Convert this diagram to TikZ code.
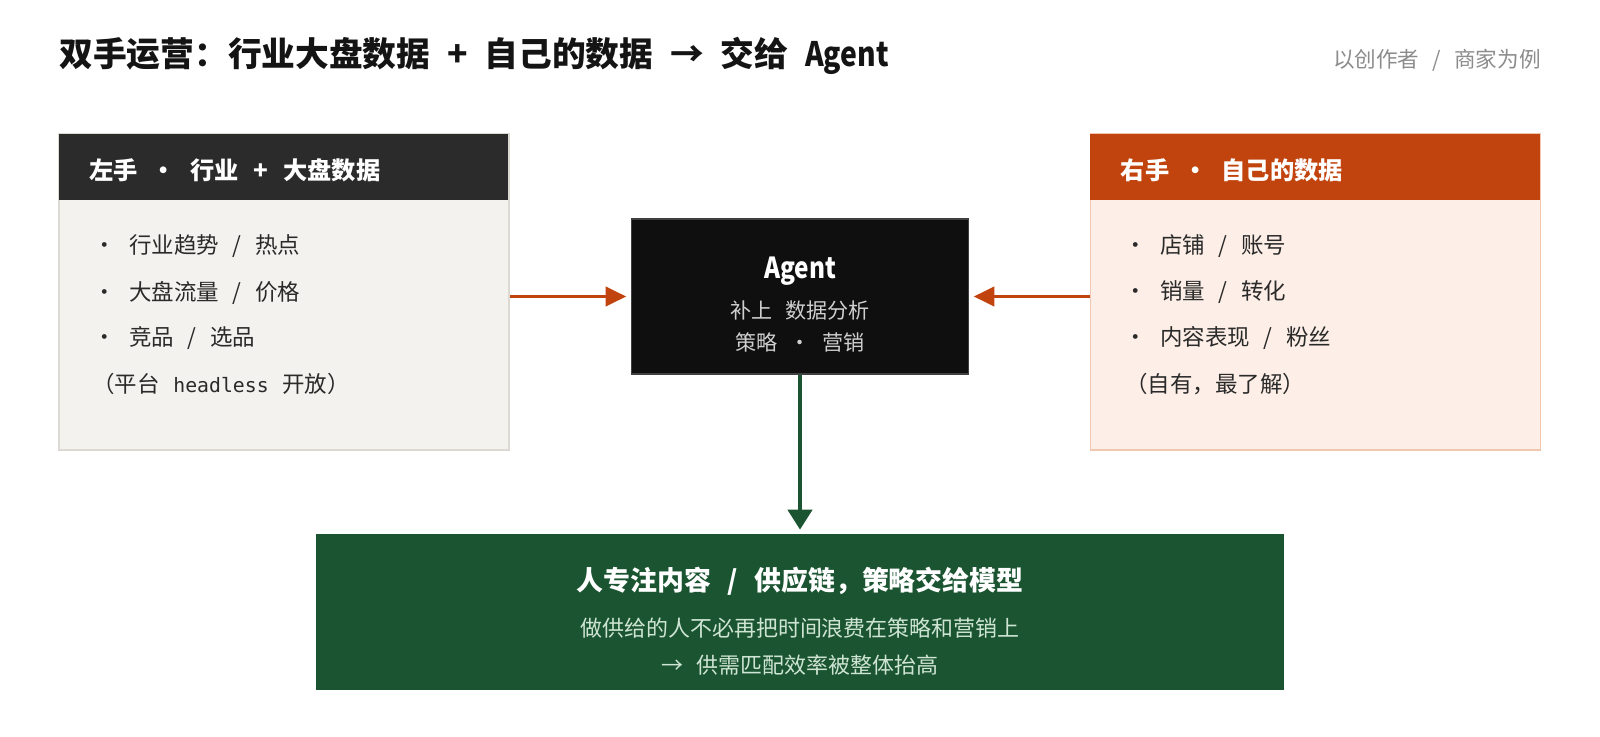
\documentclass[tikz,border=0pt]{standalone}
\usepackage{graphicx}
\usepackage{fontspec}
\setmainfont[WordSpace=2.7]{Noto Sans CJK SC}
\newfontfamily\codefont[Scale=0.88]{DejaVu Sans Mono}
\usetikzlibrary{arrows.meta, positioning}

\definecolor{titleink}{HTML}{141414}
\definecolor{notegray}{HTML}{8C8C8C}
\definecolor{inkdark}{HTML}{2B2B2B}
\definecolor{paper}{HTML}{F4F2EE}
\definecolor{paperline}{HTML}{DCD9D3}
\definecolor{rust}{HTML}{C1440E}
\definecolor{peach}{HTML}{FDEFE7}
\definecolor{peachline}{HTML}{F2C7B0}
\definecolor{agentbg}{HTML}{0F0F0F}
\definecolor{agentsub}{HTML}{CFCFCF}
\definecolor{deepgreen}{HTML}{1A5431}
\definecolor{goalsub}{HTML}{CFE5D4}
\definecolor{itemtxt}{HTML}{2A2A2A}

\newcommand{\dotsep}{\hspace{0.58em}·\hspace{0.58em}}
\newcommand{\bul}{·\hspace{0.6em}}
\newcommand{\narrowtxt}[1]{\scalebox{0.84}[1]{#1}}
\newcommand{\tightspace}{\spaceskip 0.5em\relax}

\begin{document}
\begin{tikzpicture}[
    x=0.02cm, y=-0.02cm,
    panel/.style={rectangle, inner sep=0pt, minimum width=9cm, minimum height=6.32cm, line width=1pt, fill=#1},
    head/.style={rectangle, inner sep=0pt, minimum width=9cm, minimum height=1.34cm, anchor=north west, fill=#1},
    headtxt/.style={font=\fontsize{13.8}{16}\selectfont\bfseries, text=white, anchor=west, inner sep=0pt},
    item/.style={font=\fontsize{12.8}{15}\selectfont, text=itemtxt, anchor=west, inner sep=0pt},
    plain/.style={inner sep=0pt, text=#1},
    arrow/.style={-{Triangle[length=11.8pt, width=11pt]}, line width=1.9pt, color=#1, shorten >=0.1cm}
]
\useasboundingbox (0,0) rectangle (1600,737);

% heading
\node[plain=titleink, anchor=west, font=\fontsize{19.2}{22}\selectfont\bfseries\tightspace] (title) at (59,56) {双手运营：行业大盘数据 + 自己的数据 → 交给 \narrowtxt{Agent}};
\node[plain=notegray, anchor=east, font=\fontsize{12.3}{15}\selectfont] (note) at (1541,60) {以创作者 / 商家为例};

% left hand
\node[panel=paper, draw=paperline] (left) at (284,292) {};
\node[head=inkdark] (lhead) at (left.north west) {};
\node[headtxt] (lhtxt) at (89,170) {左手\dotsep 行业 + 大盘数据};
\node[item] (l1) at (93,246.5) {\bul 行业趋势 / 热点};
\node[item] (l2) at (93,292.5) {\bul 大盘流量 / 价格};
\node[item] (l3) at (93,338) {\bul 竞品 / 选品};
\node[item] (l4) at (92,384) {（平台 {\codefont headless} 开放）};

% right hand
\node[panel=peach, draw=peachline] (right) at (1315.5,292) {};
\node[head=rust] (rhead) at (right.north west) {};
\node[headtxt] (rhtxt) at (1120.5,170) {右手\dotsep 自己的数据};
\node[item] (r1) at (1124,246.5) {\bul 店铺 / 账号};
\node[item] (r2) at (1124,292.5) {\bul 销量 / 转化};
\node[item] (r3) at (1124,338) {\bul 内容表现 / 粉丝};
\node[item] (r4) at (1125,384) {（自有，最了解）};

% agent
\node[rectangle, fill=agentbg, draw=black!75, line width=0.6pt, minimum width=6.73cm, minimum height=3.1cm] (agent) at (800,296.5) {};
\node[plain=white, font=\fontsize{16.5}{19}\selectfont\bfseries] (agname) at (800,271) {\narrowtxt{Agent}};
\node[plain=agentsub, font=\fontsize{12}{15}\selectfont] (agsub1) at (800,311) {补上 数据分析};
\node[plain=agentsub, font=\fontsize{12}{15}\selectfont] (agsub2) at (800,342) {策略\dotsep 营销};

% result
\node[rectangle, fill=deepgreen, minimum width=19.36cm, minimum height=3.12cm] (goal) at (800,612) {};
\node[plain=white, font=\fontsize{15.3}{18}\selectfont\bfseries] (goaltitle) at (800,581) {人专注内容 / 供应链，策略交给模型};
\node[plain=goalsub, font=\fontsize{12.5}{15}\selectfont] (goalsub1) at (800,628) {做供给的人不必再把时间浪费在策略和营销上};
\node[plain=goalsub, font=\fontsize{12.5}{15}\selectfont] (goalsub2) at (800,665) {→ 供需匹配效率被整体抬高};

\draw[arrow=rust] (left.east |- agent.west) -- (agent.west);
\draw[arrow=rust] (right.west |- agent.east) -- (agent.east);
\draw[arrow=deepgreen, line width=2.4pt, -{Triangle[length=11.4pt, width=13.7pt]}, shorten >=0.08cm] (agent) -- (goal);

\end{tikzpicture}
\end{document}
